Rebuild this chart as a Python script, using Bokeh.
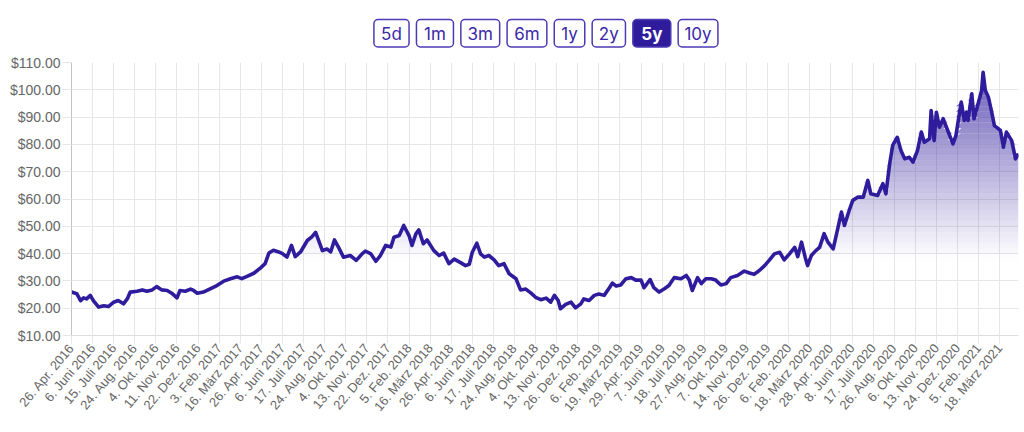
import math
import numpy as np
from bokeh.plotting import figure
from bokeh.models import Range1d, FixedTicker, NumeralTickFormatter
from bokeh.layouts import column
from bokeh.embed import file_html
from bokeh.resources import INLINE
from bokeh.core.properties import value

# ---------------- data ----------------
tick_labels = [
    "26. Apr. 2016", "6. Juni 2016", "15. Juli 2016", "24. Aug. 2016", "4. Okt. 2016",
    "11. Nov. 2016", "22. Dez. 2016", "3. Feb. 2017", "16. März 2017", "26. Apr. 2017",
    "6. Juni 2017", "17. Juli 2017", "24. Aug. 2017", "4. Okt. 2017", "13. Nov. 2017",
    "22. Dez. 2017", "5. Feb. 2018", "16. März 2018", "26. Apr. 2018", "6. Juni 2018",
    "17. Juli 2018", "24. Aug. 2018", "4. Okt. 2018", "13. Nov. 2018", "26. Dez. 2018",
    "6. Feb. 2019", "19. März 2019", "29. Apr. 2019", "7. Juni 2019", "18. Juli 2019",
    "27. Aug. 2019", "7. Okt. 2019", "14. Nov. 2019", "26. Dez. 2019", "6. Feb. 2020",
    "18. März 2020", "28. Apr. 2020", "8. Juni 2020", "17. Juli 2020", "26. Aug. 2020",
    "6. Okt. 2020", "13. Nov. 2020", "24. Dez. 2020", "5. Feb. 2021", "18. März 2021",
]
days_per_label = 28

# trading-day index of each sampled point
day_index = [
    0, 7, 12, 16, 20, 25, 29, 36, 43, 49, 56, 62, 69, 74, 78, 87, 94, 100, 107, 113,
    120, 127, 133, 140, 144, 151, 158, 162, 167, 175, 184, 193, 202, 211, 220, 226, 233, 242, 251, 257,
    262, 268, 275, 280, 286, 292, 297, 304, 313, 319, 324, 328, 333, 339, 344, 349, 355, 361, 370, 378,
    386, 390, 397, 404, 410, 417, 424, 428, 435, 441, 448, 452, 457, 461, 467, 472, 481, 488, 494, 501,
    508, 517, 523, 528, 532, 538, 543, 548, 554, 561, 567, 574, 581, 590, 596, 603, 610, 616, 623, 630,
    636, 641, 646, 649, 656, 663, 669, 676, 680, 687, 694, 700, 707, 714, 718, 723, 729, 736, 743, 749,
    756, 760, 768, 773, 780, 787, 793, 800, 809, 816, 820, 824, 831, 836, 842, 849, 855, 862, 869, 875,
    884, 893, 900, 906, 913, 920, 926, 933, 940, 946, 953, 960, 964, 969, 974, 977, 982, 988, 993, 999,
    1004, 1011, 1015, 1022, 1026, 1033, 1037, 1044, 1051, 1057, 1061, 1070, 1077, 1081, 1086, 1090, 1096, 1101, 1106, 1112,
    1117, 1123, 1128, 1132, 1139, 1141, 1145, 1148, 1152, 1157, 1163, 1170, 1174, 1181, 1185, 1188, 1190, 1195, 1198, 1204,
    1208, 1210, 1213, 1217, 1221, 1225, 1233, 1237, 1241, 1248, 1253, 1257,
]
price = [
    25.9, 25.3, 22.8, 23.8, 23.4, 24.7, 22.8, 20.4, 20.9, 20.6, 22.2, 22.8, 21.6, 23.4, 25.9, 26.2, 26.7, 26.2, 26.7, 27.9,
    26.7, 26.5, 25.5, 23.8, 26.5, 26.2, 27.0, 26.5, 25.5, 25.9, 27.1, 28.3, 29.9, 30.8, 31.5, 30.8, 31.7, 32.8, 34.8, 36.3,
    40.2, 41.2, 40.6, 40.0, 38.7, 43.0, 38.9, 40.6, 44.8, 46.1, 47.8, 44.8, 41.1, 41.7, 40.6, 45.0, 42.0, 38.7, 39.3, 37.5,
    40.0, 40.9, 40.0, 37.2, 39.3, 43.0, 42.4, 46.0, 46.6, 50.3, 46.6, 43.0, 47.2, 48.7, 43.6, 45.0, 41.1, 39.3, 40.2, 36.3,
    38.0, 36.6, 35.6, 36.1, 40.5, 43.8, 39.9, 38.7, 39.3, 37.7, 35.6, 36.3, 32.6, 30.8, 26.7, 27.0, 25.5, 24.0, 23.1, 23.7,
    22.2, 24.7, 22.8, 19.8, 21.4, 22.2, 20.1, 21.6, 23.4, 22.8, 24.7, 25.2, 24.7, 27.5, 29.2, 28.1, 28.5, 30.8, 31.2, 30.3,
    30.3, 27.5, 30.5, 27.5, 25.9, 27.1, 28.3, 31.2, 30.8, 32.0, 30.3, 26.5, 31.2, 29.0, 30.8, 30.8, 30.3, 28.5, 29.0, 31.2,
    32.0, 33.6, 32.9, 32.4, 33.8, 35.6, 37.5, 39.9, 40.5, 37.7, 39.9, 42.3, 38.9, 44.2, 38.5, 35.6, 39.3, 41.1, 42.3, 47.3,
    44.2, 41.7, 46.6, 55.2, 50.3, 56.4, 59.5, 60.7, 60.7, 66.8, 61.9, 61.3, 65.6, 61.9, 72.9, 79.6, 82.6, 77.8, 74.7, 75.3,
    73.5, 77.8, 84.5, 80.8, 82.1, 92.4, 81.4, 91.8, 86.3, 89.4, 85.1, 80.2, 83.3, 95.5, 88.8, 91.8, 88.8, 98.5, 89.4, 95.5,
    99.7, 106.4, 99.7, 97.3, 92.4, 86.9, 85.1, 79.0, 84.5, 81.4, 74.7, 76.6,
]
y_ticks = [10, 20, 30, 40, 50, 60, 70, 80, 90, 100, 110]

buttons = ["5d", "1m", "3m", "6m", "1y", "2y", "5y", "10y"]
selected = "5y"

# ---------------- style ----------------
PURPLE = "#2f1c9c"
BTN_TEXT = "#3a28a8"
GRID = "#e6e6e6"
LABEL = "#666666"
FONT = "Liberation Sans"

# ---------------- buttons row ----------------
TOP_H = 52
btn_w = [38, 40, 42, 43, 33, 36, 41, 43]
gap = 8
total = sum(btn_w) + gap * (len(btn_w) - 1)
start = 513 - total / 2
lefts, rights = [], []
x = start
for w in btn_w:
    lefts.append(x)
    rights.append(x + w)
    x += w + gap
centers = [(l + r) / 2 for l, r in zip(lefts, rights)]

top = figure(width=1024, height=TOP_H, x_range=Range1d(0, 1024), y_range=Range1d(TOP_H, 0),
             output_backend="svg", toolbar_location=None, min_border=0)
top.axis.visible = False
top.grid.visible = False
top.outline_line_color = None
fills = [PURPLE if b == selected else "white" for b in buttons]
tcols = ["white" if b == selected else BTN_TEXT for b in buttons]
tstyle = ["bold" if b == selected else "normal" for b in buttons]
top.quad(left=lefts, right=rights, top=[19] * len(buttons), bottom=[46.5] * len(buttons),
         fill_color=fills, line_color="#4b3bb5", line_width=1.5, border_radius=4)
top.text(x=centers, y=[33] * len(buttons), text=buttons, text_color=tcols,
         text_font=value("Inter"), text_font_size="17px", text_font_style=tstyle,
         text_align="center", text_baseline="middle")

# ---------------- main chart ----------------
x_end = day_index[-1]
p = figure(width=1024, height=432 - TOP_H, x_range=Range1d(0, x_end), y_range=Range1d(10, 110),
           output_backend="svg", toolbar_location=None,
           min_border_left=71, min_border_right=6, min_border_top=10, min_border_bottom=97)
p.outline_line_color = None

# gradient fill under line: stacked bands with increasing opacity
xs = np.array(day_index, dtype=float)
ys = np.array(price, dtype=float)
g_lo, g_hi, step = 38.0, 110.0, 2.0
a = g_lo
while a < g_hi:
    b = a + step
    mid = (a + b) / 2
    alpha = 0.75 * (mid - g_lo) / (g_hi - g_lo)
    p.varea(x=xs, y1=np.full_like(ys, a), y2=np.clip(ys, a, b),
            fill_color=PURPLE, fill_alpha=alpha)
    a = b

p.line(day_index, price, line_width=3.6, line_color=PURPLE, line_join="round")

# axes
ticks_x = [k * days_per_label for k in range(len(tick_labels))]
p.xaxis.ticker = FixedTicker(ticks=ticks_x)
p.xaxis.major_label_overrides = {t: lab for t, lab in zip(ticks_x, tick_labels)}
p.xaxis.major_label_orientation = 50 * math.pi / 180
p.yaxis.ticker = FixedTicker(ticks=y_ticks)
p.yaxis.formatter = NumeralTickFormatter(format="$0,0.00")

for ax in (p.xaxis, p.yaxis):
    ax.major_label_text_color = LABEL
    ax.major_label_text_font = FONT
    ax.minor_tick_line_color = None
    ax.major_tick_line_color = GRID
    ax.major_tick_in = 0
p.yaxis.major_label_text_font_size = "14px"
p.xaxis.major_label_text_font_size = "13px"
p.yaxis.major_tick_out = 9
p.yaxis.major_label_standoff = 2
p.xaxis.major_tick_out = 8
p.xaxis.major_label_standoff = 2
p.yaxis.axis_line_color = "#c4c4c4"
p.xaxis.axis_line_color = "#dddddd"

p.xgrid.grid_line_color = GRID
p.ygrid.grid_line_color = GRID
p.xgrid.ticker = p.xaxis.ticker
p.ygrid.ticker = p.yaxis.ticker

layout = column(top, p, spacing=0)
open("out.html", "w").write(file_html(layout, INLINE))
